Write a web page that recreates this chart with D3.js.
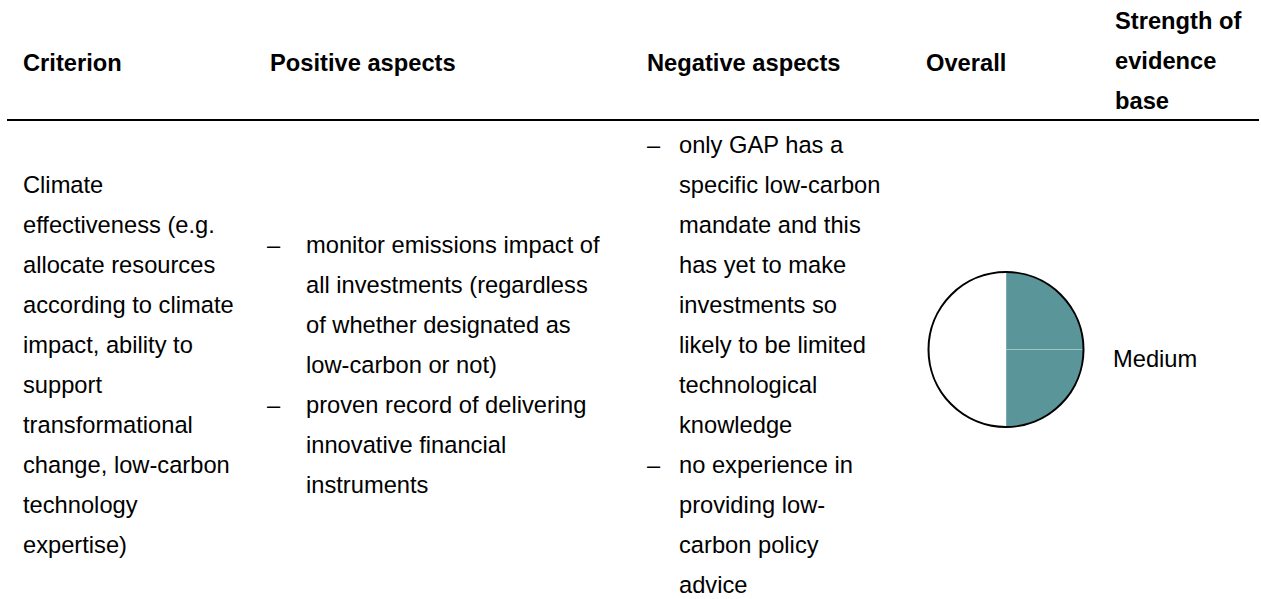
<!DOCTYPE html>
<html lang="en">
<head>
  <meta charset="UTF-8">
  <script src="https://cdn.jsdelivr.net/npm/d3@7"></script>
  <title>Criterion table</title>
  <style>
    body { margin: 0; background: #ffffff; }
    svg { display: block; }
    text { font-family: "Liberation Sans", Arial, sans-serif; font-size: 23.7px; fill: #000; }
    .head { font-weight: bold; }
  </style>
</head>
<body>
<div id="chart"></div>
<script>
  // table content
  var headers = [["Criterion"], ["Positive aspects"], ["Negative aspects"], ["Overall"], ["Strength of", "evidence", "base"]];
  var criterion = ["Climate", "effectiveness (e.g.", "allocate resources", "according to climate",
    "impact, ability to", "support", "transformational", "change, low-carbon", "technology", "expertise)"];
  var positive = [
    ["monitor emissions impact of", "all investments (regardless", "of whether designated as", "low-carbon or not)"],
    ["proven record of delivering", "innovative financial", "instruments"]
  ];
  var negative = [
    ["only GAP has a", "specific low-carbon", "mandate and this", "has yet to make", "investments so",
      "likely to be limited", "technological", "knowledge"],
    ["no experience in", "providing low-", "carbon policy", "advice"]
  ];
  var overallQuarters = [1, 1, 0, 0]; // filled quarters of the ball, clockwise from 12 o'clock
  var strength = "Medium";

  var width = 1261, height = 599;
  var colX = [23, 270, 647, 926, 1115];
  var lineH = 40;
  var midBase = 373;

  var svg = d3.select("#chart").append("svg")
    .attr("width", width)
    .attr("height", height);

  // header: single lines sit on the middle baseline, stacked lines start higher
  var yHead = d3.scaleLinear().domain([0, 1]).range([29, 29 + lineH]);
  headers.forEach(function(h, i) {
    svg.selectAll(".h" + i)
      .data(h)
      .enter()
      .append("text")
      .attr("class", "head h" + i)
      .attr("x", colX[i])
      .attr("y", function(d, j) { return h.length == 1 ? 71 : yHead(j); })
      .text(function(d) { return d; });
  });

  svg.append("line")
    .attr("x1", 7).attr("x2", 1259)
    .attr("y1", 120).attr("y2", 120)
    .attr("stroke", "#000")
    .attr("stroke-width", 2.2);

  // lines of a column, centred on the row
  function lineScale(n) {
    var top = midBase - (n - 1) * lineH / 2;
    return d3.scaleLinear().domain([0, 1]).range([top, top + lineH]);
  }

  var yc = lineScale(criterion.length);
  svg.selectAll(".crit")
    .data(criterion)
    .enter()
    .append("text")
    .attr("class", "crit")
    .attr("x", colX[0])
    .attr("y", function(d, i) { return yc(i); })
    .text(function(d) { return d; });

  function bullets(items, dashX, textX, cls) {
    var flat = [];
    items.forEach(function(it) {
      it.forEach(function(l, j) { flat.push({text: l, first: j == 0}); });
    });
    var y = lineScale(flat.length);
    svg.selectAll("." + cls)
      .data(flat)
      .enter()
      .append("text")
      .attr("class", cls)
      .attr("x", textX)
      .attr("y", function(d, i) { return y(i); })
      .text(function(d) { return d.text; });
    svg.selectAll("." + cls + "d")
      .data(flat.map(function(d, i) { return {first: d.first, i: i}; }).filter(function(d) { return d.first; }))
      .enter()
      .append("text")
      .attr("class", cls + "d")
      .attr("x", dashX)
      .attr("y", function(d) { return y(d.i); })
      .text("\u2013");
  }
  bullets(positive, 267, 306, "pos");
  bullets(negative, 647, 679, "neg");

  // harvey ball
  var cx = 1006, cy = 349.5, r = 77.5;
  var pie = d3.pie().sort(null).value(function() { return 1; });
  var arc = d3.arc().innerRadius(0).outerRadius(r);
  var ball = svg.append("g").attr("transform", "translate(" + cx + "," + cy + ")");
  ball.selectAll("path")
    .data(pie(overallQuarters))
    .enter()
    .append("path")
    .attr("d", arc)
    .attr("fill", function(d) { return d.data ? "#5a9699" : "#ffffff"; })
    .attr("stroke", function(d) { return d.data ? "#a9c9cb" : "none"; })
    .attr("stroke-width", 0.8);
  ball.append("circle")
    .attr("r", r)
    .attr("fill", "none")
    .attr("stroke", "#000")
    .attr("stroke-width", 2);

  svg.append("text")
    .attr("x", colX[4] - 2)
    .attr("y", 367)
    .text(strength);
</script>
</body>
</html>
